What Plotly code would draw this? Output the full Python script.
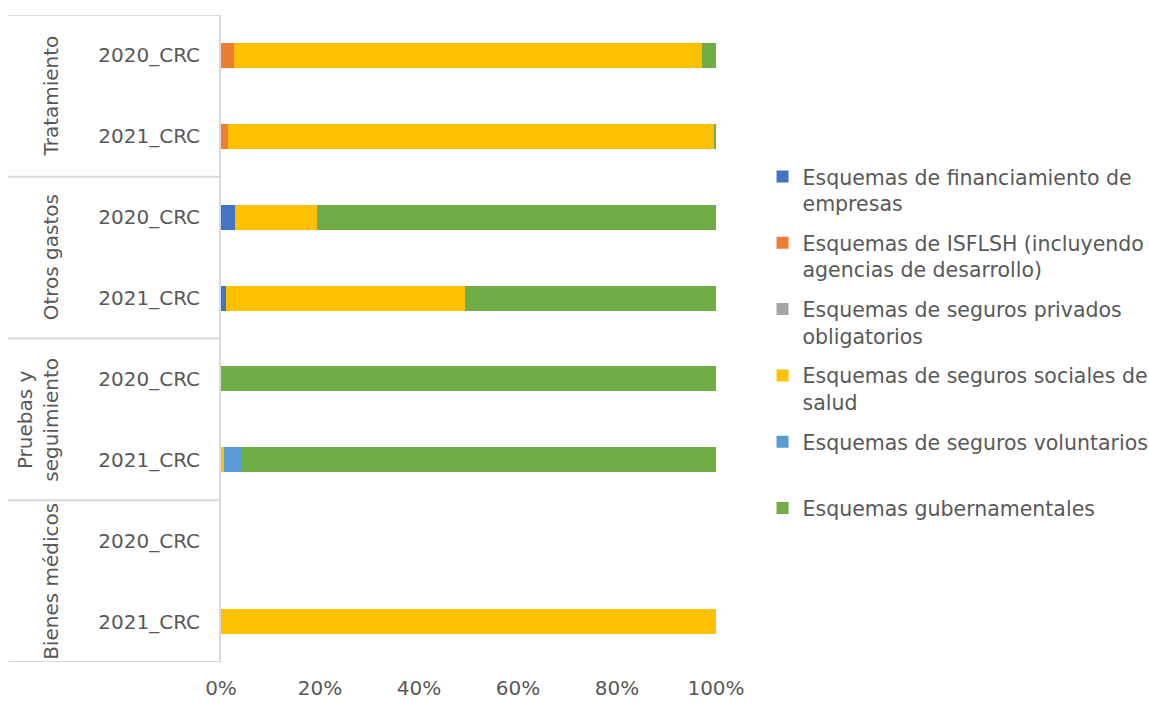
import plotly.graph_objects as go

# Row labels (top to bottom) and the spending category each row belongs to
groups = ["Tratamiento", "Tratamiento", "Otros gastos", "Otros gastos",
          "Pruebas y seguimiento", "Pruebas y seguimiento",
          "Bienes médicos", "Bienes médicos"]
years = ["2020_CRC", "2021_CRC", "2020_CRC", "2021_CRC",
         "2020_CRC", "2021_CRC", "2020_CRC", "2021_CRC"]

group_titles = ["Tratamiento", "Otros gastos", "Pruebas y<br>seguimiento", "Bienes médicos"]

# Share of spending by financing scheme (%), one value per row
empresas = [None, None, 2.8, 1.0, None, None, None, None]
isflsh = [2.7, 1.4, None, None, None, None, None, None]
privados_oblig = [None, None, None, None, None, None, None, None]
sociales = [94.5, 98.3, 16.5, 48.2, None, 0.7, None, 100.0]
voluntarios = [None, None, None, None, None, 3.3, None, None]
gubernamentales = [2.8, 0.3, 80.7, 50.8, 100.0, 96.0, None, None]

series = [
    ("Esquemas de financiamiento de<br>empresas", empresas, "#4472C4"),
    ("Esquemas de ISFLSH (incluyendo<br>agencias de desarrollo)", isflsh, "#ED7D31"),
    ("Esquemas de seguros privados<br>obligatorios", privados_oblig, "#A5A5A5"),
    ("Esquemas de seguros sociales de<br>salud", sociales, "#FFC000"),
    ("Esquemas de seguros voluntarios<br> ", voluntarios, "#5B9BD5"),
    ("Esquemas gubernamentales", gubernamentales, "#70AD47"),
]

FONT = "DejaVu Sans"
TEXT = "#595959"
LINE = "#D9D9D9"
FS = 20

rows = list(range(len(years)))

fig = go.Figure()
for i, (name, vals, color) in enumerate(series):
    fig.add_trace(go.Bar(
        y=rows,
        x=[v / 100 if v is not None else None for v in vals],
        orientation="h",
        name=name,
        legendgroup=f"g{i}",
        marker=dict(color=color, line=dict(width=0)),
        hoverinfo="skip",
    ))

# Table-style separators for the category column
for b in [-0.5, 1.5, 3.5, 5.5, 7.5]:
    fig.add_shape(type="line", xref="paper", yref="y",
                  x0=-0.4297, x1=0, y0=b, y1=b,
                  line=dict(color=LINE, width=2), layer="below")

# Rotated category titles
title_x = [-0.344, -0.344, -0.369, -0.344]
for k, t in enumerate(group_titles):
    fig.add_annotation(text=t, xref="paper", yref="y",
                       x=title_x[k], y=2 * k + 0.5, textangle=-90,
                       showarrow=False, xanchor="center", yanchor="middle",
                       font=dict(family=FONT, size=FS, color=TEXT))

fig.update_layout(
    width=1149, height=703,
    margin=dict(l=221, r=433, t=15, b=41, autoexpand=False),
    paper_bgcolor="white", plot_bgcolor="white",
    barmode="stack", bargap=0.69,
    font=dict(family=FONT, size=FS, color=TEXT),
    showlegend=True,
    legend=dict(
        x=1.094, xanchor="left", y=0.781, yanchor="top",
        traceorder="grouped", tracegroupgap=10, valign="top",
        font=dict(family=FONT, size=20.5, color=TEXT),
        bgcolor="rgba(0,0,0,0)",
    ),
)

fig.update_xaxes(
    range=[0, 1], tickvals=[0, 0.2, 0.4, 0.6, 0.8, 1.0], tickformat=".0%",
    showgrid=False, zeroline=False, showline=False, ticks="",
    ticklabelstandoff=12, automargin=False,
    tickfont=dict(family=FONT, size=FS, color=TEXT),
)
fig.update_yaxes(
    range=[7.5, -0.5], tickvals=rows, ticktext=years,
    showgrid=False, zeroline=False, showline=True, linecolor=LINE, linewidth=2,
    ticks="", ticklabelstandoff=15, automargin=False,
    tickfont=dict(family=FONT, size=FS, color=TEXT),
)

fig.write_html("out.html")
